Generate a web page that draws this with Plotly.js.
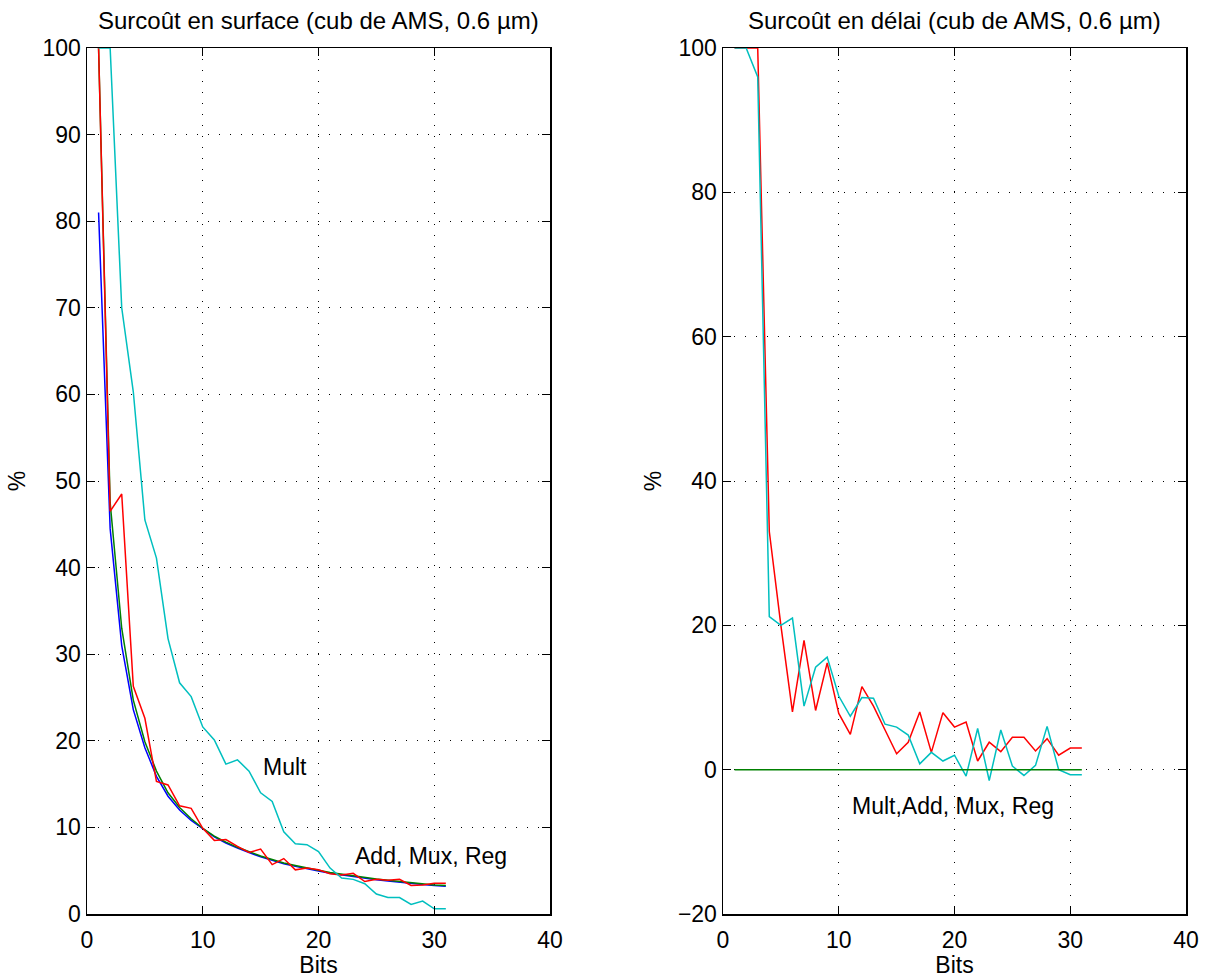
<!DOCTYPE html>
<html>
<head>
<meta charset="utf-8">
<script src="https://cdn.plot.ly/plotly-3.0.1.min.js"></script>
<style>html,body{margin:0;padding:0;background:#fff;}#chart{width:1206px;height:978px;}</style>
</head>
<body>
<div id="chart"></div>
<script>
const bits = [1,2,3,4,5,6,7,8,9,10,11,12,13,14,15,16,17,18,19,20,21,22,23,24,25,26,27,28,29,30,31];

// Surcoût en surface
const surfBlue  = [81, 44.5, 31, 23.6, 19.2, 15.9, 13.6, 12, 10.8, 9.8, 8.9, 8.2, 7.6, 7.1, 6.6, 6.2, 5.8, 5.5, 5.2, 4.95, 4.7, 4.5, 4.3, 4.1, 3.95, 3.8, 3.65, 3.5, 3.4, 3.3, 3.2];
const surfGreen = [100, 47.5, 33, 24.7, 19.9, 16.5, 14, 12.3, 11, 9.9, 9.0, 8.3, 7.7, 7.2, 6.7, 6.3, 5.9, 5.6, 5.3, 5.05, 4.8, 4.6, 4.4, 4.2, 4.05, 3.9, 3.75, 3.6, 3.45, 3.35, 3.3];
const surfRed   = [100, 46.5, 48.5, 26.3, 22.6, 15.3, 14.9, 12.5, 12.2, 9.9, 8.5, 8.6, 7.8, 7.1, 7.5, 5.7, 6.4, 5.1, 5.3, 5.1, 4.65, 4.5, 4.7, 3.75, 4.0, 3.9, 4.0, 3.3, 3.35, 3.55, 3.55];
const surfCyan  = [100, 100, 70, 60.3, 45.5, 41.1, 31.8, 26.7, 25.1, 21.6, 20.1, 17.3, 17.8, 16.5, 14, 13, 9.5, 8.1, 8.0, 7.2, 5.3, 4.15, 4.0, 3.5, 2.3, 1.9, 1.9, 1.1, 1.5, 0.6, 0.6];

// Surcoût en délai
const delayGreen = [0,0,0,0,0,0,0,0,0,0,0,0,0,0,0,0,0,0,0,0,0,0,0,0,0,0,0,0,0,0,0];
const delayRed   = [100, 100, 100, 33, 20, 8.0, 17.9, 8.2, 14.8, 7.8, 4.9, 11.5, 8.8, 5.5, 2.2, 3.8, 8.0, 2.4, 7.9, 5.9, 6.6, 1.2, 3.8, 2.5, 4.5, 4.5, 2.6, 4.3, 2.0, 3.0, 3.0];
const delayCyan  = [100, 100, 96, 21.2, 20.0, 21.0, 8.8, 14.2, 15.6, 10.2, 7.4, 10.0, 9.9, 6.3, 5.9, 4.8, 0.8, 2.4, 1.2, 2.0, -0.9, 5.7, -1.5, 5.5, 0.5, -0.8, 0.6, 6.0, 0, -0.7, -0.7];

const titles = ["Surcoût en surface (cub de AMS, 0.6 µm)", "Surcoût en délai (cub de AMS, 0.6 µm)"];
const xLabel = "Bits";
const yLabel = "%";
const notes = [
  {text: "Mult", x: 15, y: 17, ax: 1},
  {text: "Add, Mux, Reg", x: 23, y: 6.7, ax: 1},
  {text: "Mult,Add, Mux, Reg", x: 11, y: -5, ax: 2}
];

const C = {blue: "#0000ff", green: "#008000", red: "#ff0000", cyan: "#00bfbf"};
const FONT = "Liberation Sans, Arial, Helvetica, sans-serif";
const LW = 1.5;
const FS = 23;

function tr(y, color, ax) {
  return {x: bits, y: y, type: "scatter", mode: "lines",
    line: {color: color, width: LW},
    xaxis: ax === 1 ? "x" : "x2", yaxis: ax === 1 ? "y" : "y2",
    showlegend: false, hoverinfo: "skip"};
}

const data = [
  tr(surfBlue, C.blue, 1), tr(surfGreen, C.green, 1), tr(surfRed, C.red, 1), tr(surfCyan, C.cyan, 1),
  tr(delayRed, C.red, 2), tr(delayCyan, C.cyan, 2), tr(delayGreen, C.green, 2)
];

const W = 1206, H = 978;
const dom1 = [87 / W, 550 / W];
const dom2 = [723 / W, 1186 / W];
const domY = [(H - 914) / H, (H - 48) / H];

function xa(dom, anchor) {
  return {domain: dom, anchor: anchor, range: [0, 40], dtick: 10, tick0: 0,
    showgrid: true, gridcolor: "#000", gridwidth: 1, griddash: "1px,10px",
    zeroline: false, showline: true, linecolor: "#000", linewidth: 1.5, mirror: "ticks",
    ticks: "inside", ticklen: 8, tickwidth: 1, tickcolor: "#000", ticklabelstandoff: 5,
    tickfont: {family: FONT, size: FS, color: "#000"},
    title: {text: xLabel, font: {family: FONT, size: FS, color: "#000"}, standoff: 0}};
}
function ya(dom, anchor, range, dtick) {
  return {domain: dom, anchor: anchor, range: range, dtick: dtick, tick0: 0,
    showgrid: true, gridcolor: "#000", gridwidth: 1, griddash: "1px,10px",
    zeroline: false, showline: true, linecolor: "#000", linewidth: 1.5, mirror: "ticks",
    ticks: "inside", ticklen: 8, tickwidth: 1, tickcolor: "#000", ticklabelstandoff: 0,
    tickfont: {family: FONT, size: FS, color: "#000"},
    title: {text: yLabel, font: {family: FONT, size: FS, color: "#000"}, standoff: 10}};
}

const annotations = [
  {text: titles[0], xref: "paper", yref: "paper", x: (dom1[0] + dom1[1]) / 2, y: 1 - 21 / H,
   xanchor: "center", yanchor: "middle", showarrow: false, font: {family: FONT, size: 24, color: "#000"}},
  {text: titles[1], xref: "paper", yref: "paper", x: (dom2[0] + dom2[1]) / 2, y: 1 - 21 / H,
   xanchor: "center", yanchor: "middle", showarrow: false, font: {family: FONT, size: 24, color: "#000"}}
];
notes.forEach(n => annotations.push({
  text: n.text, x: n.x, y: n.y, xref: n.ax === 1 ? "x" : "x2", yref: n.ax === 1 ? "y" : "y2",
  xanchor: "left", yanchor: "middle", showarrow: false, font: {family: FONT, size: FS, color: "#000"}
}));

const layout = {
  width: W, height: H,
  margin: {l: 0, r: 0, t: 0, b: 0},
  paper_bgcolor: "#fff", plot_bgcolor: "#fff",
  font: {family: FONT, size: FS, color: "#000"},
  xaxis: xa(dom1, "y"),
  yaxis: ya(domY, "x", [0, 100], 10),
  xaxis2: xa(dom2, "y2"),
  yaxis2: ya(domY, "x2", [-20, 100], 20),
  annotations: annotations,
  showlegend: false
};

Plotly.newPlot("chart", data, layout, {staticPlot: true, displayModeBar: false});
</script>
</body>
</html>
